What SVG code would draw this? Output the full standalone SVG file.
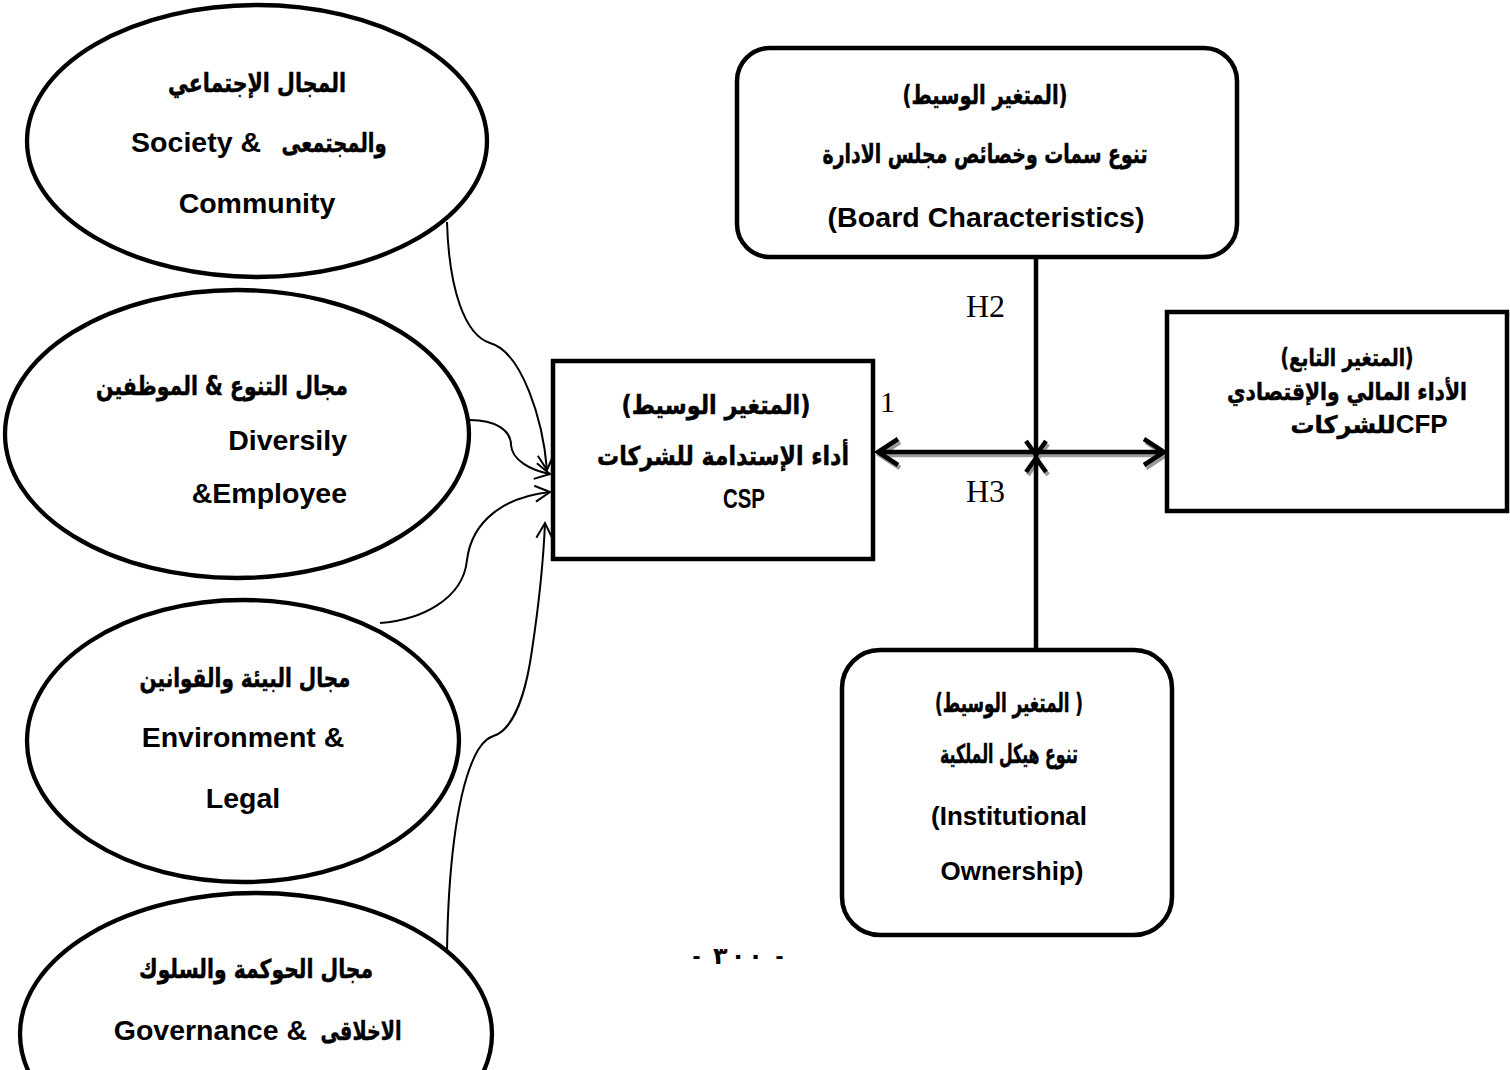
<svg xmlns="http://www.w3.org/2000/svg" width="1510" height="1070" viewBox="0 0 1510 1070">
<style>
.shape{fill:#fff;stroke:#000;stroke-width:4.5}
.ell{fill:#fff;stroke:#000;stroke-width:4.3}
.t{font-family:"Liberation Sans","DejaVu Sans",Arial,sans-serif;font-weight:bold;font-size:28.5px;fill:#000}
.ar{font-family:"DejaVu Sans","Liberation Sans",sans-serif;font-weight:bold;font-size:26px;fill:#000;stroke:#000;stroke-width:0.5}
.lbl{font-family:"Liberation Serif","Times New Roman",serif;font-size:32px;fill:#000}
.curve{fill:none;stroke:#000;stroke-width:2}
.thick{fill:none;stroke:#000;stroke-width:4.5}
.shadow{fill:none;stroke:#9a9a9a;stroke-width:4.5}
</style>
<defs>
<marker id="open" markerWidth="24" markerHeight="24" refX="17" refY="9" orient="auto" markerUnits="userSpaceOnUse">
<path d="M2,1 L17,9 L2,17" fill="none" stroke="#000" stroke-width="2"/>
</marker>
</defs>
<rect width="1510" height="1070" fill="#fff"/>

<g id="connectors">
<path class="curve" d="M447,222 C449,290 465,335 490,343 C522,352 543,420 547,470" marker-end="url(#open)"/>
<path class="curve" d="M470,420 C495,420 511,430 511,445 C512,460 530,470 550,474" marker-end="url(#open)"/>
<path class="curve" d="M380,623 C420,620 463,600 467,560 C472,520 505,497 550,492" marker-end="url(#open)"/>
<path class="curve" d="M447,952 C448,880 455,790 478,750 C486,737 492,737 498,734 C512,726 525,700 532,650 C538,610 543,570 545,523" marker-end="url(#open)"/>
<g transform="translate(2,3)">
<path class="shadow" d="M878,452 H1163"/>
<path class="shadow" d="M898,439 L878,452 L898,465"/>
<path class="shadow" d="M1144,439 L1164,452 L1144,465"/>
<path class="shadow" d="M1026,441 L1036,455 L1046,441"/>
<path class="shadow" d="M1026,472 L1036,458 L1046,472"/>
</g>
<path class="thick" d="M1036,257 V650"/>
<path class="thick" d="M878,452 H1163"/>
<path class="thick" d="M898,439 L878,452 L898,465"/>
<path class="thick" d="M1144,439 L1164,452 L1144,465"/>
<path class="thick" d="M1026,441 L1036,455 L1046,441"/>
<path class="thick" d="M1026,472 L1036,458 L1046,472"/>
<text class="lbl" x="880" y="412" style="font-size:30px">1</text>
<text class="lbl" x="966" y="317">H2</text>
<text class="lbl" x="966" y="502">H3</text>
</g>

<g id="node-society">
<ellipse class="ell" cx="257" cy="141" rx="230" ry="136"/>
<text class="ar" x="257" y="92" text-anchor="middle" textLength="178" lengthAdjust="spacingAndGlyphs">المجال الإجتماعي</text>
<text class="t" y="152"><tspan x="261" text-anchor="end">Society &amp;</tspan><tspan class="ar" x="334" text-anchor="middle" textLength="105" lengthAdjust="spacingAndGlyphs">والمجتمعى</tspan></text>
<text class="t" x="257" y="213" text-anchor="middle">Community</text>
</g>

<g id="node-diversity">
<ellipse class="ell" cx="237" cy="434" rx="232" ry="144"/>
<text class="ar" x="222" y="395" text-anchor="middle" textLength="252" lengthAdjust="spacingAndGlyphs">مجال التنوع &amp; الموظفين</text>
<text class="t" x="347" y="450" text-anchor="end">Diversily</text>
<text class="t" x="347" y="503" text-anchor="end">&amp;Employee</text>
</g>

<g id="node-environment">
<ellipse class="ell" cx="243" cy="741" rx="216" ry="141"/>
<text class="ar" x="245" y="687" text-anchor="middle" textLength="211" lengthAdjust="spacingAndGlyphs">مجال البيئة والقوانين</text>
<text class="t" x="243" y="747" text-anchor="middle">Environment &amp;</text>
<text class="t" x="243" y="808" text-anchor="middle">Legal</text>
</g>

<g id="node-governance">
<ellipse class="ell" cx="256" cy="1034" rx="236" ry="141"/>
<text class="ar" x="256" y="978" text-anchor="middle" textLength="234" lengthAdjust="spacingAndGlyphs">مجال الحوكمة والسلوك</text>
<text class="t" y="1040"><tspan x="307" text-anchor="end">Governance &amp;</tspan><tspan class="ar" x="361" text-anchor="middle" textLength="81" lengthAdjust="spacingAndGlyphs">الاخلاقى</tspan></text>
</g>

<g id="node-csp">
<rect class="shape" x="553" y="361" width="320" height="198"/>
<text class="ar" x="716" y="414" text-anchor="middle" textLength="189" lengthAdjust="spacingAndGlyphs">(المتغير الوسيط)</text>
<text class="ar" x="723" y="465" text-anchor="middle" textLength="252" lengthAdjust="spacingAndGlyphs">أداء الإستدامة للشركات</text>
<text class="t" x="744" y="508" text-anchor="middle" style="font-size:27px" textLength="42" lengthAdjust="spacingAndGlyphs">CSP</text>
</g>

<g id="node-board">
<rect class="shape" x="737" y="48" width="500" height="209" rx="33"/>
<text class="ar" x="985" y="104" text-anchor="middle" textLength="165" lengthAdjust="spacingAndGlyphs">(المتغير الوسيط)</text>
<text class="ar" x="985" y="163" text-anchor="middle" textLength="325" lengthAdjust="spacingAndGlyphs">تنوع سمات وخصائص مجلس الادارة</text>
<text class="t" x="986" y="227" text-anchor="middle" textLength="317" lengthAdjust="spacing">(Board Characteristics)</text>
</g>

<g id="node-ownership">
<rect class="shape" x="842" y="650" width="330" height="285" rx="38"/>
<text class="ar" x="1009" y="712" text-anchor="middle" textLength="148" lengthAdjust="spacingAndGlyphs">(المتغير الوسيط )</text>
<text class="ar" x="1009" y="763" text-anchor="middle" textLength="138" lengthAdjust="spacingAndGlyphs">تنوع هيكل الملكية</text>
<text class="t" x="1009" y="825" text-anchor="middle" style="font-size:26px">(Institutional</text>
<text class="t" x="1012" y="880" text-anchor="middle" style="font-size:26px">Ownership)</text>
</g>

<g id="node-cfp">
<rect class="shape" x="1167" y="312" width="340" height="199"/>
<text class="ar" x="1347" y="366" text-anchor="middle" style="font-size:24px" textLength="133" lengthAdjust="spacingAndGlyphs">(المتغير التابع)</text>
<text class="ar" x="1347" y="400" text-anchor="middle" style="font-size:24px" textLength="240" lengthAdjust="spacingAndGlyphs">الأداء المالي والإقتصادي</text>
<text class="ar" x="1369" y="433" text-anchor="middle" style="font-size:24px">للشركات<tspan class="t" style="font-size:26px;stroke:none">CFP</tspan></text>
</g>

<text class="t" x="738" y="964" text-anchor="middle" style="font-size:24px" textLength="91" lengthAdjust="spacing" xml:space="preserve">- ٣٠٠ -</text>
</svg>
